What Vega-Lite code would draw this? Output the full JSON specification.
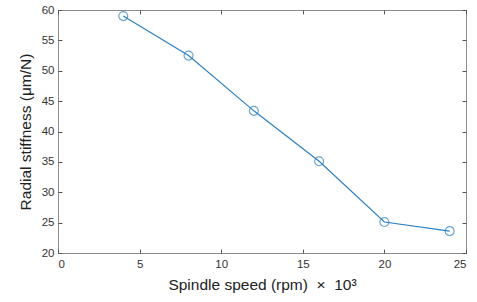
{
  "$schema": "https://vega.github.io/schema/vega-lite/v6.json",
  "width": 408,
  "height": 243,
  "autosize": {"type": "none"},
  "padding": {"left": 58, "top": 10, "right": 11, "bottom": 49},
  "background": "white",
  "config": {
    "view": {"stroke": "#8c8c8c", "strokeWidth": 1},
    "font": "Liberation Sans",
    "axis": {
      "domain": false,
      "grid": false,
      "tickColor": "#555555",
      "tickSize": -4,
      "labelColor": "#333333",
      "labelFontSize": 11.5,
      "labelFont": "Liberation Sans",
      "titleFont": "Liberation Sans",
      "titleFontSize": 15.5,
      "titleFontWeight": "normal",
      "titleColor": "#222222"
    }
  },
  "data": {
    "values": [
      {"speed": 4, "stiffness": 59.0},
      {"speed": 8, "stiffness": 52.5},
      {"speed": 12, "stiffness": 43.4},
      {"speed": 16, "stiffness": 35.1},
      {"speed": 20, "stiffness": 25.1},
      {"speed": 24, "stiffness": 23.6}
    ]
  },
  "layer": [
    {
      "mark": {"type": "line", "color": "#2f80c0", "strokeWidth": 1.2},
      "encoding": {
        "x": {"field": "speed", "type": "quantitative", "scale": {"domain": [0, 25], "nice": false}, "axis": {"orient": "bottom", "values": [0, 5, 10, 15, 20, 25], "labelPadding": 9, "title": "Spindle speed (rpm) \u00a0×\u00a0 10³", "titlePadding": 8}},
        "y": {"field": "stiffness", "type": "quantitative", "scale": {"domain": [20, 60], "nice": false, "zero": false}, "axis": {"orient": "left", "values": [20, 25, 30, 35, 40, 45, 50, 55, 60], "labelPadding": 8, "title": "Radial stiffness (μm/N)", "titlePadding": 8}}
      }
    },
    {
      "mark": {"type": "point", "shape": "circle", "filled": false, "color": "#2f80c0", "size": 80, "strokeWidth": 1.2},
      "encoding": {
        "x": {"field": "speed", "type": "quantitative", "axis": {"orient": "top", "values": [0, 5, 10, 15, 20, 25], "labels": false, "title": null}},
        "y": {"field": "stiffness", "type": "quantitative", "axis": {"orient": "right", "values": [20, 25, 30, 35, 40, 45, 50, 55, 60], "labels": false, "title": null}}
      }
    }
  ],
  "resolve": {"axis": {"x": "independent", "y": "independent"}}
}
